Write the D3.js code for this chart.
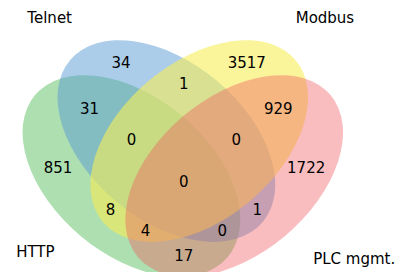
<!DOCTYPE html>
<html>
<head>
<meta charset="utf-8">
<script src="https://cdn.jsdelivr.net/npm/d3@7"></script>
<style>
  html, body { margin: 0; padding: 0; background: #fff; }
  svg text { font-family: "DejaVu Sans", sans-serif; font-size: 15px; fill: #000; }
</style>
</head>
<body>
<div id="chart"></div>
<script>
// set names, in order A..D
const setNames = ['HTTP', 'Telnet', 'Modbus', 'PLC mgmt.'];

// region keys (membership bits A B C D) and counts
const regionKeys = ['0001', '0010', '0011', '0100', '0101', '0110', '0111',
  '1000', '1001', '1010', '1011', '1100', '1101', '1110', '1111'];
const regionCounts = [1722, 3517, 929, 34, 1, 1, 0, 851, 17, 8, 4, 31, 0, 0, 0];

// ellipse fills
const setColors = [
  'rgba(92,192,98,0.5)',
  'rgba(90,155,212,0.5)',
  'rgba(246,236,86,0.6)',
  'rgba(241,90,96,0.4)'
];

const width = 401;
const height = 272;

// unit-square layout
const k = 349.5;
const x = d3.scaleLinear().domain([0, 1]).range([9.1, 9.1 + k]);
const y = d3.scaleLinear().domain([0, 1]).range([315.8, 315.8 - k]);

const ellipses = [
  {cx: 0.350, cy: 0.400, w: 0.72, h: 0.45, angle: 140},
  {cx: 0.450, cy: 0.500, w: 0.72, h: 0.45, angle: 140},
  {cx: 0.544, cy: 0.500, w: 0.72, h: 0.45, angle: 40},
  {cx: 0.644, cy: 0.400, w: 0.72, h: 0.45, angle: 40}
];

const labelPos = {
  '0001': [0.85, 0.42], '0010': [0.68, 0.72], '0011': [0.77, 0.59],
  '0100': [0.32, 0.72], '0101': [0.71, 0.30], '0110': [0.50, 0.66],
  '0111': [0.65, 0.50], '1000': [0.14, 0.42], '1001': [0.50, 0.17],
  '1010': [0.29, 0.30], '1011': [0.39, 0.24], '1100': [0.23, 0.59],
  '1101': [0.61, 0.24], '1110': [0.35, 0.50], '1111': [0.50, 0.38]
};

const namePos = [
  {p: [0.13, 0.18], anchor: 'end', va: 'center'},
  {p: [0.18, 0.83], anchor: 'end', va: 'bottom'},
  {p: [0.82, 0.83], anchor: 'start', va: 'bottom'},
  {p: [0.87, 0.18], anchor: 'start', va: 'top'}
];

const fs = 15;
const baselineShift = {center: 0.276 * fs, bottom: -0.208 * fs, top: 0.76 * fs};

const svg = d3.select('#chart')
  .append('svg')
  .attr('width', width)
  .attr('height', height);

svg.selectAll('ellipse.set')
  .data(ellipses)
  .enter()
  .append('ellipse')
  .attr('class', 'set')
  .attr('cx', 0)
  .attr('cy', 0)
  .attr('rx', d => x(d.w / 2) - x(0))
  .attr('ry', d => y(0) - y(d.h / 2))
  .attr('transform', d => 'translate(' + x(d.cx) + ',' + y(d.cy) + ') rotate(' + (-d.angle) + ')')
  .attr('fill', (d, i) => setColors[i]);

// region counts
svg.selectAll('text.count')
  .data(regionKeys)
  .enter()
  .append('text')
  .attr('class', 'count')
  .attr('x', d => x(labelPos[d][0]))
  .attr('y', d => y(labelPos[d][1]) + baselineShift.center)
  .attr('text-anchor', 'middle')
  .text((d, i) => regionCounts[i]);

// set names
svg.selectAll('text.name')
  .data(setNames)
  .enter()
  .append('text')
  .attr('class', 'name')
  .attr('x', (d, i) => x(namePos[i].p[0]))
  .attr('y', (d, i) => y(namePos[i].p[1]) + baselineShift[namePos[i].va])
  .attr('text-anchor', (d, i) => namePos[i].anchor)
  .text(d => d);
</script>
</body>
</html>
